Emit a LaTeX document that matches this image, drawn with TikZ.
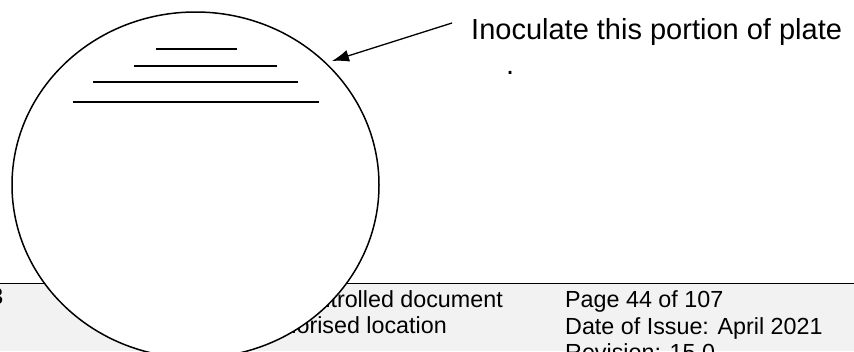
\documentclass[tikz,border=0pt]{standalone}
\usepackage{fontspec}
\setmainfont{Liberation Sans}
\usetikzlibrary{shapes.geometric,arrows.meta}
\definecolor{footgray}{RGB}{242,242,242}
\tikzset{
  bigtext/.style={anchor=base west,inner sep=0pt,font=\fontsize{29}{34}\selectfont},
  foottext/.style={inner sep=0pt,font=\fontsize{23.3}{26.5}\selectfont},
  streak/.style={line width=1.7pt},
  plate/.style={ellipse,draw,line width=1.5pt,fill=white,inner sep=0pt},
  pointer/.style={line width=1.3pt,-{Latex[length=17pt,width=12pt]}}
}
\begin{document}
\begin{tikzpicture}[x=1pt,y=-1pt]
\useasboundingbox (0,0) rectangle (854,351);
\clip (0,0) rectangle (854,351);
% footer
\fill[footgray] (0,283.5) rectangle (854,351);
\coordinate (fl) at (0,283.5);
\coordinate (fr) at (854,283.5);
\draw[line width=1.6pt] (fl) -- (fr);
\node[foottext,anchor=base east] (f3) at (3.5,304) {3};
\node[foottext,anchor=base east] (f1) at (503,307) {Uncontrolled document};
\node[foottext,anchor=base east] (f2) at (447,333.5) {Authorised location};
\node[foottext,anchor=base west] (p1) at (565,307.7) {Page 44 of 107};
\node[foottext,anchor=base west] (p2) at (565,334.2) {Date of Issue: April 2021};
\node[foottext,anchor=base west] (p3) at (565,360.7) {Revision: 15.0};
% plate
\node[plate,minimum width=367,minimum height=346] (plate) at (195.5,185) {};
% streaks
\coordinate (a1) at (155.5,49.3); \coordinate (b1) at (237,49.3);
\coordinate (a2) at (134,66.3);   \coordinate (b2) at (277,66.3);
\coordinate (a3) at (93,81.7);    \coordinate (b3) at (298,81.7);
\coordinate (a4) at (73,101.7);   \coordinate (b4) at (319,101.7);
\draw[streak] (a1) -- (b1);
\draw[streak] (a2) -- (b2);
\draw[streak] (a3) -- (b3);
\draw[streak] (a4) -- (b4);
% label and arrow
\node[bigtext] (lbl) at (471,39.5) {Inoculate this portion of plate};
\node[bigtext] (dot) at (506,74) {.};
\coordinate (as) at (452,23);
\coordinate (at) at (332,61);
\draw[pointer] (as) -- (at);
\end{tikzpicture}
\end{document}
